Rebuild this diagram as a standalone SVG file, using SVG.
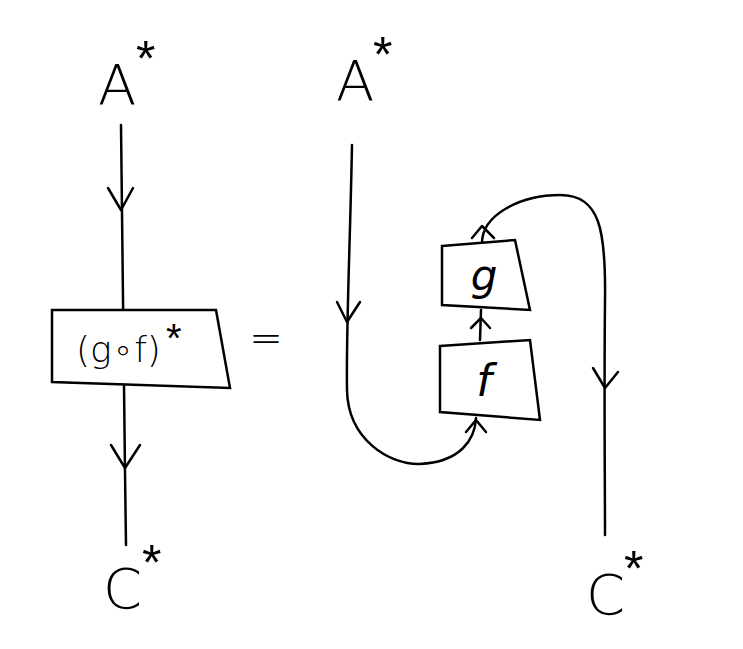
<svg xmlns="http://www.w3.org/2000/svg" width="743" height="649" viewBox="0 0 743 649">
<style>
.l{fill:none;stroke:#000;stroke-width:2.5;stroke-linecap:round;stroke-linejoin:round}
.b{fill:#fff;stroke:#000;stroke-width:2.5}
.t{font-family:"DejaVu Sans","Liberation Sans",sans-serif;font-weight:200;fill:#000}
.s{font-family:"Liberation Sans",sans-serif;fill:#000}
</style>
<rect width="743" height="649" fill="#fff"/>
<g id="connectors">
<path class="l" d="M121,125 C122,250 124,400 126,545"/>
<path class="l" d="M108,188 L121,210 L133,188"/>
<path class="l" d="M111,445 L125,468 L140,445"/>
<path class="l" d="M352,145 C350,250 346,330 347,390 C348,440 390,465 420,464 C460,462 475,440 476,418"/>
<path class="l" d="M337,302 L347,322 L360,302"/>
<path class="l" d="M466,432 L476,420 L486,432"/>
<path class="l" d="M480,340 L481,310"/>
<path class="l" d="M471,328 L481,318 L490,328"/>
<path class="l" d="M482,243 C482,215 520,195 560,195 C600,195 606,230 605,300 C604,400 605,480 605,535"/>
<path class="l" d="M472,238 L482,226 L494,238"/>
<path class="l" d="M593,368 L605,388 L618,372"/>
</g>
<g id="box-gof">
<path class="b" d="M52,310 L216,310 L230,388 L52,382 Z"/>
<text class="t" x="76" y="362" font-size="36">(g∘f)</text>
<text class="s" x="166" y="352" font-size="40">*</text>
</g>
<g id="box-f">
<path class="b" d="M440,346 L530,340 L540,420 L440,412 Z"/>
<text class="t" x="484" y="396" font-size="44" font-style="italic" text-anchor="middle">f</text>
</g>
<g id="box-g">
<path class="b" d="M442,246 L515,240 L530,310 L442,305 Z"/>
<text class="t" x="484" y="290" font-size="42" font-style="italic" text-anchor="middle">g</text>
</g>
<g id="labels">
<text class="t" x="98" y="104" font-size="56">A</text>
<text class="s" x="136" y="76" font-size="50">*</text>
<text class="t" x="336" y="100" font-size="56">A</text>
<text class="s" x="373" y="72" font-size="50">*</text>
<text class="t" x="103" y="608" font-size="56">C</text>
<text class="s" x="142" y="580" font-size="50">*</text>
<text class="t" x="586" y="614" font-size="56">C</text>
<text class="s" x="624" y="586" font-size="50">*</text>
<text class="t" x="266" y="352" font-size="40" text-anchor="middle">=</text>
</g>
</svg>
